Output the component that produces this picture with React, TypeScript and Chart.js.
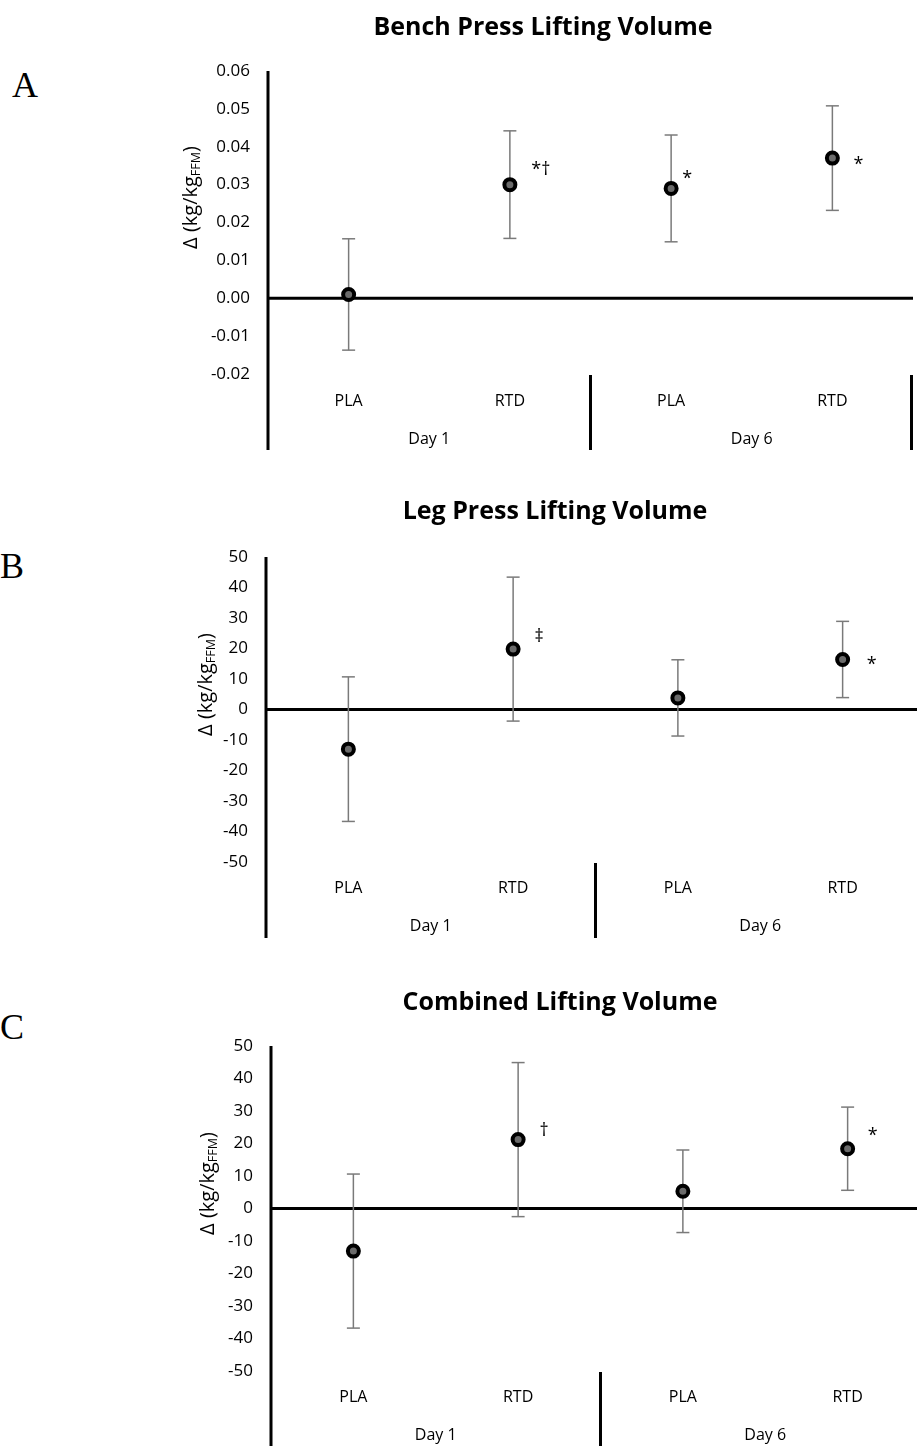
import React, { useEffect, useRef } from 'react';
import { Chart, registerables } from 'chart.js';

Chart.register(...registerables);

// ---------- data ----------
const CATEGORIES = ['PLA', 'RTD', 'PLA', 'RTD'];
const DAY_LABELS = ['Day 1', 'Day 6'];
const Y_TITLE_MAIN = 'Δ (kg/kg';
const Y_TITLE_SUB = 'FFM';
const Y_TITLE_END = ')';

const BENCH_TITLE = 'Bench Press Lifting Volume';
const BENCH_MEAN = [0.001, 0.030, 0.029, 0.037];
const BENCH_SD = [0.0147, 0.0142, 0.0141, 0.0138];
const BENCH_MARKS = ['', '*†', '*', '*'];
const BENCH_RANGE = [-0.02, 0.06];
const BENCH_STEP = 0.01;
const BENCH_DECIMALS = 2;

const LEG_TITLE = 'Leg Press Lifting Volume';
const LEG_MEAN = [-13.0, 19.8, 3.8, 16.4];
const LEG_SD = [23.7, 23.6, 12.5, 12.5];
const LEG_MARKS = ['', '‡', '', '*'];
const LEG_RANGE = [-50, 50];
const LEG_STEP = 10;
const LEG_DECIMALS = 0;

const COMB_TITLE = 'Combined Lifting Volume';
const COMB_MEAN = [-13.1, 21.2, 5.3, 18.4];
const COMB_SD = [23.7, 23.7, 12.7, 12.8];
const COMB_MARKS = ['', '†', '', '*'];
const COMB_RANGE = [-50, 50];
const COMB_STEP = 10;
const COMB_DECIMALS = 0;

// ---------- layout / style ----------
const FONT = "'Open Sans', 'DejaVu Sans', sans-serif";

type Panel = {
  letter: string;
  letterLeft: number;
  letterTop: number;
  title: string;
  mean: number[];
  sd: number[];
  marks: string[];
  range: number[];
  step: number;
  decimals: number;
  top: number;
  w: number;
  h: number;
  axisX: number;
  plotTop: number;
  plotBottom: number;
  padRight: number;
  titleX: number;
  yTitleX: number;
  catDrop: number;
  dayDrop: number;
  lineDrop: number;
  markOffsets: number[][];
};

const PANELS: Panel[] = [
  {
    letter: 'A', letterLeft: 12, letterTop: 67,
    title: BENCH_TITLE, mean: BENCH_MEAN, sd: BENCH_SD, marks: BENCH_MARKS,
    range: BENCH_RANGE, step: BENCH_STEP, decimals: BENCH_DECIMALS,
    top: 0, w: 747, h: 460, axisX: 98, plotTop: 71, plotBottom: 374, padRight: 4,
    titleX: 373, yTitleX: 21, catDrop: 26, dayDrop: 65, lineDrop: 76,
    markOffsets: [[0, 0], [31, -17], [16, -14], [26, 2]],
  },
  {
    letter: 'B', letterLeft: 0, letterTop: 548,
    title: LEG_TITLE, mean: LEG_MEAN, sd: LEG_SD, marks: LEG_MARKS,
    range: LEG_RANGE, step: LEG_STEP, decimals: LEG_DECIMALS,
    top: 484, w: 755, h: 461, axisX: 96, plotTop: 73, plotBottom: 378, padRight: 0,
    titleX: 385, yTitleX: 36, catDrop: 25, dayDrop: 64, lineDrop: 76,
    markOffsets: [[0, 0], [26, -14], [0, 0], [29, 1]],
  },
  {
    letter: 'C', letterLeft: 0, letterTop: 1009,
    title: COMB_TITLE, mean: COMB_MEAN, sd: COMB_SD, marks: COMB_MARKS,
    range: COMB_RANGE, step: COMB_STEP, decimals: COMB_DECIMALS,
    top: 975, w: 760, h: 471, axisX: 101, plotTop: 71, plotBottom: 396, padRight: 0,
    titleX: 390, yTitleX: 38, catDrop: 25, dayDrop: 64, lineDrop: 80,
    markOffsets: [[0, 0], [26, -11], [0, 0], [25, -17]],
  },
];

function line(ctx: CanvasRenderingContext2D, x1: number, y1: number, x2: number, y2: number) {
  ctx.beginPath();
  ctx.moveTo(x1, y1);
  ctx.lineTo(x2, y2);
  ctx.stroke();
}

function makePlugin(p: Panel) {
  return {
    id: 'panelDecor',
    beforeDatasetsDraw(chart: any) {
      const { ctx, chartArea: ca, scales } = chart;
      const x = scales.x;
      const y = scales.y;
      const lineBottom = ca.bottom + p.lineDrop;
      ctx.save();
      ctx.strokeStyle = '#000';
      ctx.lineWidth = 3;
      // zero line
      const y0 = y.getPixelForValue(0);
      line(ctx, ca.left, y0, ca.right, y0);
      // vertical axis
      line(ctx, ca.left, ca.top, ca.left, lineBottom);
      // group separators
      const sepX = (x.getPixelForValue(1) + x.getPixelForValue(2)) / 2;
      line(ctx, sepX, ca.bottom + 1, sepX, lineBottom);
      line(ctx, ca.right - 1.5, ca.bottom + 1, ca.right - 1.5, lineBottom);
      // error bars
      ctx.strokeStyle = '#7a7a7a';
      ctx.lineWidth = 1.5;
      p.mean.forEach((m, i) => {
        const px = x.getPixelForValue(i);
        const yt = y.getPixelForValue(m + p.sd[i]);
        const yb = y.getPixelForValue(m - p.sd[i]);
        line(ctx, px, yt, px, yb);
        line(ctx, px - 6.5, yt, px + 6.5, yt);
        line(ctx, px - 6.5, yb, px + 6.5, yb);
      });
      ctx.restore();
    },
    afterDraw(chart: any) {
      const { ctx, chartArea: ca, scales } = chart;
      const x = scales.x;
      const y = scales.y;
      ctx.save();
      ctx.fillStyle = '#000';
      // significance marks
      ctx.font = `18px ${FONT}`;
      ctx.textAlign = 'center';
      ctx.textBaseline = 'alphabetic';
      p.marks.forEach((mk, i) => {
        if (!mk) return;
        const px = x.getPixelForValue(i) + p.markOffsets[i][0];
        const py = y.getPixelForValue(p.mean[i]) + p.markOffsets[i][1];
        const m = ctx.measureText(mk);
        const base = py + (m.actualBoundingBoxAscent - m.actualBoundingBoxDescent) / 2;
        ctx.fillText(mk, px, base);
      });
      // day labels
      ctx.textBaseline = 'middle';
      ctx.font = `16px ${FONT}`;
      DAY_LABELS.forEach((d, g) => {
        const cx = (x.getPixelForValue(g * 2) + x.getPixelForValue(g * 2 + 1)) / 2;
        ctx.fillText(d, cx, ca.bottom + p.dayDrop);
      });
      // chart title
      ctx.font = `bold 25px ${FONT}`;
      ctx.fillText(p.title, p.titleX, 28);
      // y axis title with subscript
      const cy = (ca.top + ca.bottom) / 2 - 25;
      ctx.translate(p.yTitleX, cy);
      ctx.rotate(-Math.PI / 2);
      const mainFont = `20px ${FONT}`;
      const subFont = `12.5px ${FONT}`;
      ctx.font = mainFont;
      const w1 = ctx.measureText(Y_TITLE_MAIN).width;
      const w3 = ctx.measureText(Y_TITLE_END).width;
      ctx.font = subFont;
      const w2 = ctx.measureText(Y_TITLE_SUB).width;
      let sx = -(w1 + w2 + w3) / 2;
      ctx.textAlign = 'left';
      ctx.textBaseline = 'middle';
      ctx.font = mainFont;
      ctx.fillText(Y_TITLE_MAIN, sx, 0);
      sx += w1;
      ctx.font = subFont;
      ctx.fillText(Y_TITLE_SUB, sx, 5);
      sx += w2;
      ctx.font = mainFont;
      ctx.fillText(Y_TITLE_END, sx, 0);
      ctx.restore();
    },
  };
}

function PanelChart({ p }: { p: Panel }) {
  const ref = useRef<HTMLCanvasElement>(null);
  useEffect(() => {
    const canvas = ref.current;
    if (!canvas) return;
    const chart = new Chart(canvas, {
      type: 'line',
      data: {
        labels: CATEGORIES,
        datasets: [
          {
            data: p.mean,
            showLine: false,
            pointRadius: 5.5,
            pointHoverRadius: 5.5,
            pointBorderWidth: 4,
            pointBackgroundColor: '#6b6b6b',
            pointBorderColor: '#000',
            borderColor: '#000',
          },
        ],
      },
      options: {
        responsive: false,
        animation: false,
        events: [],
        layout: {
          autoPadding: false,
          padding: { top: p.plotTop, left: 0, right: p.padRight, bottom: 0 },
        },
        plugins: {
          legend: { display: false },
          tooltip: { enabled: false },
          title: { display: false },
        },
        scales: {
          x: {
            type: 'category',
            offset: true,
            grid: { display: false, drawTicks: false },
            border: { display: false },
            ticks: {
              font: { family: FONT, size: 16 },
              color: '#000',
              padding: p.catDrop - 8,
              maxRotation: 0,
              autoSkip: false,
            },
            afterFit: (s: any) => {
              s.height = p.h - p.plotBottom;
            },
          },
          y: {
            min: p.range[0],
            max: p.range[1],
            grid: { display: false, drawTicks: false },
            border: { display: false },
            ticks: {
              stepSize: p.step,
              font: { family: FONT, size: 17 },
              color: '#000',
              padding: 18,
              callback: (v: any) => Number(v).toFixed(p.decimals),
            },
            afterFit: (s: any) => {
              s.width = p.axisX;
            },
          },
        },
      },
      plugins: [makePlugin(p)],
    } as any);
    return () => chart.destroy();
  }, [p]);
  return (
    <canvas
      ref={ref}
      width={p.w}
      height={p.h}
      style={{ position: 'absolute', left: 170, top: p.top, width: p.w, height: p.h }}
    />
  );
}

export default function App() {
  return (
    <div
      style={{
        position: 'absolute',
        left: 0,
        top: 0,
        width: 917,
        height: 1446,
        overflow: 'hidden',
        background: '#fff',
      }}
    >
      {PANELS.map((p) => (
        <div
          key={p.letter + 'l'}
          style={{
            position: 'absolute',
            left: p.letterLeft,
            top: p.letterTop,
            fontFamily: "'Liberation Serif', 'Times New Roman', serif",
            fontSize: 36,
            lineHeight: '36px',
            color: '#000',
          }}
        >
          {p.letter}
        </div>
      ))}
      {PANELS.map((p) => (
        <PanelChart key={p.letter} p={p} />
      ))}
    </div>
  );
}
